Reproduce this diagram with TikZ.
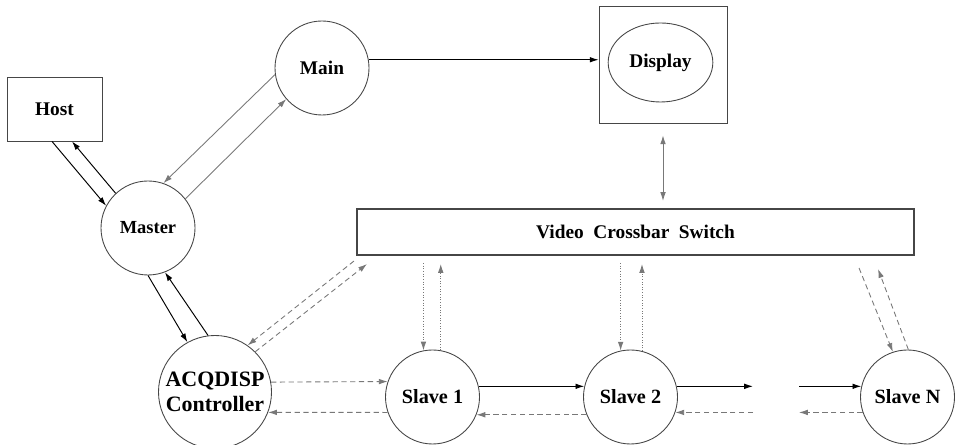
\documentclass[tikz,border=0pt]{standalone}
\usepackage{fontspec}
\setmainfont{Liberation Serif}
\usetikzlibrary{shapes.geometric, arrows.meta, positioning, calc}
\definecolor{edgecolor}{RGB}{70, 70, 70}
\definecolor{linegray}{RGB}{120, 120, 120}

\begin{document}
\begin{tikzpicture}[
    >={Latex[length=5pt, width=3.2pt]},
    procnode/.style={circle, draw=edgecolor, line width=0.5pt, minimum size=1.88cm, inner sep=1pt, align=center, font=\bfseries\fontsize{11.5}{13}\selectfont},
    box/.style={rectangle, draw=edgecolor, line width=0.5pt, align=center, font=\bfseries\fontsize{11}{13}\selectfont},
    arrow/.style={->, line width=0.55pt},
    thinarrow/.style={->, line width=0.5pt, linegray},
    dasharrow/.style={->, line width=0.5pt, linegray, densely dashed},
    dotarrow/.style={->, line width=0.5pt, linegray, densely dotted}
]
\useasboundingbox (0, 0) rectangle (19.12, 8.9);

% Host side
\node[box, minimum width=1.9cm, minimum height=1.28cm] (host) at (1.09, 6.72) {Host};
\node[procnode, font=\bfseries\fontsize{10.5}{12}\selectfont] (master) at (2.96, 4.34) {Master};
\node[procnode, font=\bfseries\fontsize{11}{12}\selectfont] (main) at (6.44, 7.54) {Main};

% Display
\node[box, minimum width=2.56cm, minimum height=2.34cm] (dispbox) at (13.26, 7.61) {};
\node[ellipse, draw=edgecolor, line width=0.5pt, minimum width=1.82cm, minimum height=1.58cm, font=\bfseries\fontsize{11}{13}\selectfont] (disp) at (13.21, 7.65) {Display};

% Video Crossbar Switch
\node[box, line width=1.2pt, minimum width=11.14cm, minimum height=0.92cm] (xbar) at (12.71, 4.26) {Video~~Crossbar~~Switch};

% Controller and slaves
\node[procnode, minimum size=2.26cm, font=\bfseries\fontsize{12.5}{14}\selectfont] (acq) at (4.3, 1.06) {ACQDISP\\Controller};
\node[procnode] (s1) at (8.65, 0.96) {Slave 1};
\node[procnode] (s2) at (12.61, 0.96) {Slave 2};
\node[procnode] (sn) at (18.15, 0.96) {Slave N};

% Gap between Slave 2 and Slave N
\coordinate (gapL) at (15.06, 0.96);
\coordinate (gapR) at (15.98, 0.96);

% Host <-> Master
\draw[arrow] ([xshift=-0.05cm]host.south) -- (master.152);
\draw[arrow] (master.133) -- ([xshift=0.35cm]host.south);

% Main <-> Master
\draw[thinarrow] (main.188) -- (master.71);
\draw[thinarrow] (master.38) -- (main.221);

% Main -> Display
\draw[arrow] (main.10) -- (main.10 -| dispbox.west);

% Display <-> Crossbar
\draw[thinarrow, <->, shorten <=0.24cm, shorten >=0.14cm] (dispbox.south) -- (dispbox.south |- xbar.north);

% Master <-> Controller
\draw[arrow] (master.270) -- (acq.119);
\draw[arrow] (acq.97) -- (master.291);

% Crossbar <-> Controller
\draw[dasharrow] ([shift={(-0.04, -0.1)}]xbar.south west) -- (acq.55);
\draw[dasharrow] (acq.45) -- ([shift={(0.22, -0.16)}]xbar.south west);

% Controller <-> Slave 1
\draw[dasharrow] (acq.10) -- (s1.161);
\draw[dasharrow] (s1.199) -- (acq.339);

% Crossbar <-> Slave 1
\draw[dotarrow, shorten <=0.14cm] (s1.101 |- xbar.south) -- (s1.101);
\draw[dotarrow, shorten >=0.16cm] (s1.80) -- (s1.80 |- xbar.south);

% Slave 1 <-> Slave 2
\draw[arrow] (s1.13) -- (s2.167);
\draw[dasharrow] (s2.202) -- (s1.338);

% Crossbar <-> Slave 2
\draw[dotarrow, shorten <=0.14cm] (s2.102 |- xbar.south) -- (s2.102);
\draw[dotarrow, shorten >=0.16cm] (s2.76) -- (s2.76 |- xbar.south);

% Slave 2 <-> ... <-> Slave N
\draw[arrow] (s2.13) -- (s2.13 -| gapL);
\draw[dasharrow] (s2.341 -| gapL) -- (s2.341);
\draw[arrow] (sn.167 -| gapR) -- (sn.167);
\draw[dasharrow] (sn.199) -- (sn.199 -| gapR);

% Crossbar <-> Slave N
\draw[dasharrow] ([shift={(-1.12, -0.24)}]xbar.south east) -- (sn.108);
\draw[dasharrow] (sn.89) -- ([shift={(-0.74, -0.26)}]xbar.south east);

\end{tikzpicture}
\end{document}
